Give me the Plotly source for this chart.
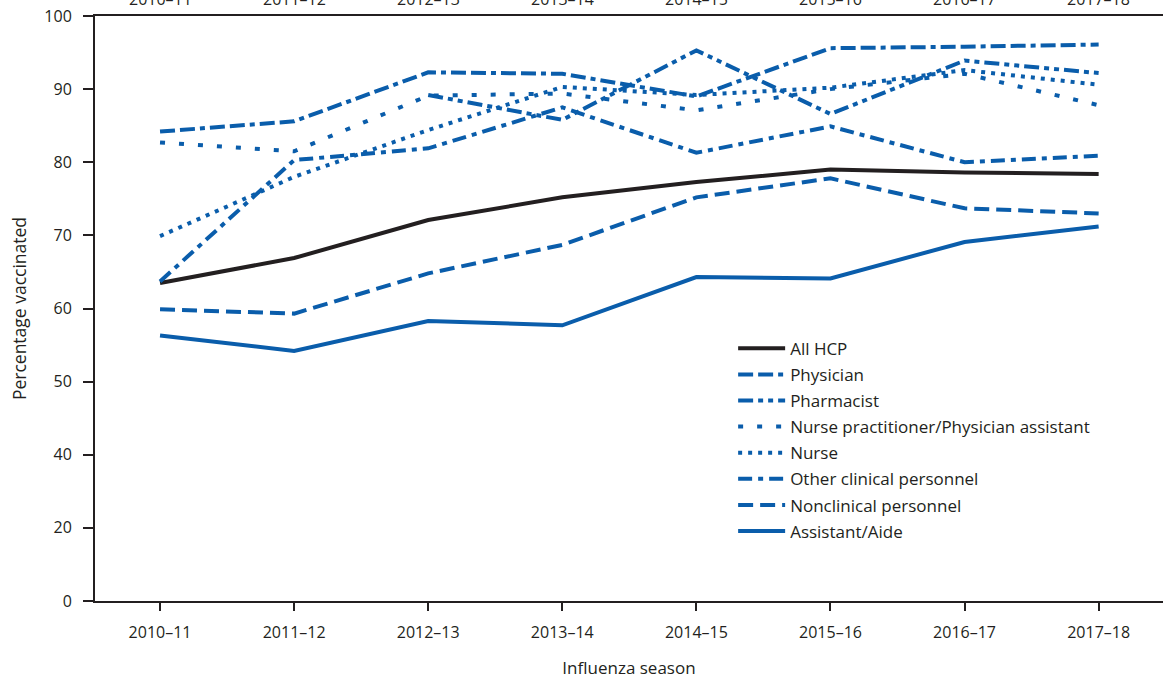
import plotly.graph_objects as go

seasons = ["2010–11", "2011–12", "2012–13", "2013–14", "2014–15", "2015–16", "2016–17", "2017–18"]

all_hcp = [63.5, 66.9, 72.1, 75.2, 77.3, 79.0, 78.6, 78.4]
physician = [84.2, 85.6, 92.3, 92.1, 89.0, 95.6, 95.8, 96.1]
pharmacist = [None, None, 89.2, 85.8, 95.3, 86.6, 93.9, 92.2]
np_pa = [82.7, 81.5, 89.1, 89.4, 87.1, 90.0, 92.1, 87.8]
nurse = [69.9, 78.0, 84.4, 90.3, 89.2, 90.2, 92.6, 90.6]
other_clinical = [63.7, 80.3, 81.9, 87.5, 81.3, 84.9, 80.0, 80.9]
nonclinical = [59.9, 59.3, 64.8, 68.7, 75.2, 77.8, 73.7, 73.0]
assistant_aide = [56.3, 54.2, 58.3, 57.7, 64.3, 64.1, 69.1, 71.2]

ytick_vals = [20, 30, 40, 50, 60, 70, 80, 90, 100]
ytick_text = ["0", "20", "40", "50", "60", "70", "80", "90", "100"]

BLUE = "#0a5dab"
BLACK = "#231f20"
FONT = "Open Sans"

series = [
    ("All HCP", all_hcp, BLACK, "solid"),
    ("Physician", physician, BLUE, "15px,5px,15px,5px,5px,5px"),
    ("Pharmacist", pharmacist, BLUE, "15px,5px,5px,5px,5px,5px"),
    ("Nurse practitioner/Physician assistant", np_pa, BLUE, "5px,14px"),
    ("Nurse", nurse, BLUE, "4px,6px"),
    ("Other clinical personnel", other_clinical, BLUE, "14px,6px,5px,6px"),
    ("Nonclinical personnel", nonclinical, BLUE, "15px,7px"),
    ("Assistant/Aide", assistant_aide, BLUE, "solid"),
]

fig = go.Figure()
for i, (name, vals, color, dash) in enumerate(series):
    fig.add_trace(go.Scatter(
        x=seasons, y=vals, name=name, mode="lines",
        line=dict(color=color, width=4, dash=dash),
        legendgroup=f"g{i}",
    ))

# top labels (partially cut off at the top edge, as in the reference)
for s in seasons:
    fig.add_annotation(x=s, y=1, xref="x", yref="paper", text=s, showarrow=False,
                       yanchor="middle", yshift=17,
                       font=dict(family=FONT, size=16, color=BLACK))

fig.update_layout(
    width=1163, height=679,
    margin=dict(l=95, r=0, t=16, b=78),
    paper_bgcolor="white", plot_bgcolor="white",
    font=dict(family=FONT, size=16, color=BLACK),
    showlegend=True,
    legend=dict(x=0.5975, y=0.462, xanchor="left", yanchor="top",
                bgcolor="rgba(0,0,0,0)", font=dict(family=FONT, size=17, color=BLACK),
                tracegroupgap=1, itemwidth=47),
    xaxis=dict(
        type="category", range=[-0.485, 7.48],
        showline=True, linecolor=BLACK, linewidth=2, mirror=True,
        ticks="outside", ticklen=8, tickcolor=BLACK, tickwidth=1.5,
        ticklabelstandoff=8,
        showgrid=False, zeroline=False,
        tickfont=dict(family=FONT, size=16, color=BLACK),
        title=dict(text="Influenza season", font=dict(family=FONT, size=17, color=BLACK), standoff=22),
    ),
    yaxis=dict(
        range=[20, 100], tickvals=ytick_vals, ticktext=ytick_text,
        showline=True, linecolor=BLACK, linewidth=2,
        ticks="outside", ticklen=10, tickcolor=BLACK, tickwidth=1.5,
        ticklabelstandoff=8,
        showgrid=False, zeroline=False,
        tickfont=dict(family=FONT, size=16, color=BLACK),
        title=dict(text="Percentage vaccinated", font=dict(family=FONT, size=17.5, color=BLACK), standoff=13),
    ),
)

fig.write_html("out.html", config={"displayModeBar": False},
               post_script="document.body.style.margin='0';document.body.style.overflow='hidden';")
